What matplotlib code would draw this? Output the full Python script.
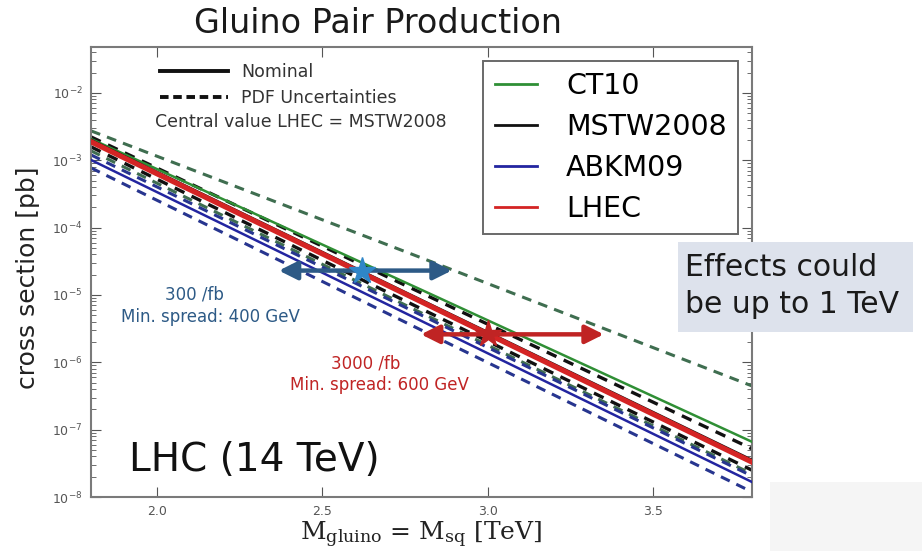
"""
Gluino pair production cross sections at the 14 TeV LHC for several PDF sets,
with the mass reach spread for 300/fb and 3000/fb.
"""

import numpy as np
import matplotlib
matplotlib.use('Agg')
import matplotlib.pyplot as plt
from matplotlib.patches import FancyArrowPatch, Rectangle
from matplotlib.lines import Line2D

# Colours
GREEN   = '#2f8f35'
GREEN_D = '#3f6e50'
BLACK   = '#111111'
BLUE    = '#2325a0'
BLUE_D  = '#27358f'
RED     = '#d42424'
STEEL   = '#2d5a86'
STAR_B  = '#2f86c8'
DARKRED = '#c02424'
TICKC   = '#555555'
SPINE   = '#7a7a7a'

# Gluino / squark mass [TeV] and cross sections [pb] for each PDF set
mass = [1.8, 2.8, 3.8]

ct10_nom  = [2.07e-3, 1.19e-5, 6.6e-8]
ct10_up   = [2.73e-3, 3.55e-5, 4.46e-7]
ct10_dn   = [1.38e-3, 5.4e-6, 2.2e-8]

mstw_nom  = [2.0e-3, 8.4e-6, 3.55e-8]
mstw_up   = [2.22e-3, 1.07e-5, 5.2e-8]
mstw_dn   = [1.58e-3, 6.2e-6, 2.5e-8]

abkm_nom  = [1.01e-3, 4.1e-6, 1.67e-8]
abkm_up   = [1.2e-3, 5.0e-6, 2.05e-8]
abkm_dn   = [7.7e-4, 3.0e-6, 1.19e-8]

lhec_nom  = [1.88e-3, 7.9e-6, 3.3e-8]

# Mass reach and spread: (star mass, xsec, arrow from, arrow to)
reach_300  = (2.62, 2.3e-5, 2.36, 2.90)
reach_3000 = (3.00, 2.6e-6, 2.79, 3.36)

legend_names = ['CT10', 'MSTW2008', 'ABKM09', 'LHEC']

plt.rcParams.update({
    'xtick.direction': 'in', 'ytick.direction': 'in',
    'xtick.top': True, 'ytick.right': True,
    'xtick.major.size': 7, 'ytick.major.size': 7,
    'xtick.minor.size': 3.5, 'ytick.minor.size': 3.5,
    'xtick.color': TICKC, 'ytick.color': TICKC,
    'mathtext.fontset': 'dejavusans',
})

fig = plt.figure(figsize=(9.22, 5.51), dpi=100, facecolor='white')

# faint grey patch in the lower right corner of the page
fig.add_artist(Rectangle((0.835, 0.0), 0.165, 0.125, transform=fig.transFigure,
                         fc='#f5f5f5', ec='none', zorder=0))

ax = fig.add_axes([0.0987, 0.098, 0.7169, 0.8167])

DASH = (0, (3.2, 2.4))

# PDF uncertainty bands (dashed)
ax.plot(mass, ct10_up, color=GREEN_D, lw=2.2, ls=DASH, zorder=2)
ax.plot(mass, ct10_dn, color=GREEN_D, lw=2.2, ls=DASH, zorder=2)
ax.plot(mass, mstw_up, color=BLACK, lw=2.4, ls=DASH, zorder=2)
ax.plot(mass, mstw_dn, color=BLACK, lw=2.4, ls=DASH, zorder=2)
ax.plot(mass, abkm_up, color=BLUE_D, lw=2.2, ls=DASH, zorder=2)
ax.plot(mass, abkm_dn, color=BLUE_D, lw=2.2, ls=DASH, zorder=2)

# Nominal curves
ax.plot(mass, ct10_nom, color=GREEN, lw=1.8, zorder=3)
ax.plot(mass, mstw_nom, color=BLACK, lw=1.8, zorder=3)
ax.plot(mass, abkm_nom, color=BLUE, lw=1.8, zorder=3)
ax.plot(mass, lhec_nom, color=RED, lw=3.8, zorder=4)

ax.set_yscale('log')
ax.set_xlim(1.8, 3.8)
ax.set_ylim(1e-8, 0.048)
ax.set_xticks([2.0, 2.5, 3.0, 3.5])
ax.tick_params(labelsize=9, pad=6)
for sp in ax.spines.values():
    sp.set_color(SPINE)
    sp.set_linewidth(1.5)

# Mass reach arrows
for (xs, ys, x0, x1), acol, scol in [(reach_300, STEEL, STAR_B),
                                      (reach_3000, DARKRED, DARKRED)]:
    arr = FancyArrowPatch((x0, ys), (x1, ys),
                          arrowstyle='<|-|>,head_length=1.1,head_width=0.55',
                          mutation_scale=10, lw=3.2, color=acol, zorder=6)
    ax.add_patch(arr)
    ax.plot([xs], [ys], marker='*', ms=20, color=scol, mec=scol, zorder=7)

ax.text(0.157, 0.449, '300 /fb', transform=ax.transAxes, color=STEEL,
        fontsize=12, ha='center', va='center')
ax.text(0.18, 0.40, 'Min. spread: 400 GeV', transform=ax.transAxes,
        color=STEEL, fontsize=12, ha='center', va='center')
ax.text(0.415, 0.297, '3000 /fb', transform=ax.transAxes, color=DARKRED,
        fontsize=12, ha='center', va='center')
ax.text(0.437, 0.249, 'Min. spread: 600 GeV', transform=ax.transAxes,
        color=DARKRED, fontsize=12, ha='center', va='center')

ax.text(0.057, 0.082, 'LHC (14 TeV)', transform=ax.transAxes,
        fontsize=28, color=BLACK, ha='left', va='center')

# Line style key (upper left)
ax.plot([0.104, 0.207], [0.947, 0.947], transform=ax.transAxes,
        color=BLACK, lw=2.8)
ax.plot([0.104, 0.207], [0.889, 0.889], transform=ax.transAxes,
        color=BLACK, lw=2.8, ls=(0, (2.2, 1.2)))
ax.text(0.227, 0.944, 'Nominal', transform=ax.transAxes, fontsize=12.5,
        color='#333333', va='center')
ax.text(0.227, 0.887, 'PDF Uncertainties', transform=ax.transAxes,
        fontsize=12.5, color='#333333', va='center')
ax.text(0.318, 0.834, 'Central value LHEC = MSTW2008', transform=ax.transAxes,
        fontsize=12.5, color='#333333', va='center', ha='center')

# PDF set legend
handles = [Line2D([], [], color=c, lw=2) for c in [GREEN, BLACK, BLUE, RED]]
leg = ax.legend(handles, legend_names, loc='upper right',
                bbox_to_anchor=(0.979, 0.969), borderaxespad=0.0,
                fontsize=20.5, frameon=True, fancybox=False,
                edgecolor='#444444', handlelength=1.5, handletextpad=1.0,
                borderpad=0.4, labelspacing=0.45)
leg.get_frame().set_linewidth(1.4)

ax.set_ylabel('cross section [pb]', fontsize=18, color='#222222')
ax.yaxis.set_label_coords(-0.077, 0.487)
ax.set_xlabel(r'$\mathrm{M_{gluino}}$ = $\mathrm{M_{sq}}$ [TeV]',
              fontsize=18, color='#222222', family='DejaVu Serif',
              math_fontfamily='dejavuserif', labelpad=1)

fig.text(0.41, 0.958, 'Gluino Pair Production', fontsize=24,
         color='#1a1a1a', ha='center', va='center')

# Side note box
fig.add_artist(Rectangle((0.7354, 0.3975), 0.2549, 0.1633,
                         transform=fig.transFigure, fc='#dde2ec', ec='none',
                         zorder=10))
fig.text(0.743, 0.514, 'Effects could', fontsize=21.5, color='#1a1a1a',
         ha='left', va='center', zorder=11)
fig.text(0.743, 0.447, 'be up to 1 TeV', fontsize=21.5, color='#1a1a1a',
         ha='left', va='center', zorder=11)

fig.savefig('out.png', dpi=100, facecolor='white')
